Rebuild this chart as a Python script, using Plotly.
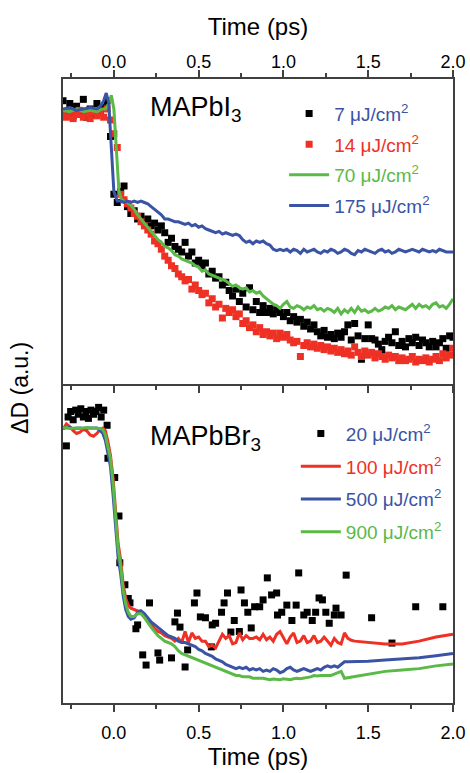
import plotly.graph_objects as go

FONT = "Liberation Sans, Arial, sans-serif"
BLUE = "#3a53a4"
RED = "#ee3124"
GREEN = "#5ab947"
BLACK = "#000000"
AXC = "#404040"

TICK_VALS = [0.0, 0.5, 1.0, 1.5, 2.0]
TICK_TEXT = ["0.0", "0.5", "1.0", "1.5", "2.0"]
MINOR_VALS = [-0.25, 0.25, 0.75, 1.25, 1.75]

# ---------------- MAPbI3 (top panel) ----------------
T_GRID = [-0.30, -0.28, -0.26, -0.24, -0.22, -0.20, -0.18, -0.16, -0.14, -0.12,
          -0.10, -0.08, -0.06, -0.04, -0.02, 0.00, 0.02, 0.04, 0.06, 0.08,
          0.10, 0.12, 0.14, 0.16, 0.18, 0.20, 0.22, 0.24, 0.26, 0.28,
          0.30, 0.32, 0.34, 0.36, 0.38, 0.40, 0.42, 0.44, 0.46, 0.48,
          0.50, 0.52, 0.54, 0.56, 0.58, 0.60, 0.62, 0.64, 0.66, 0.68,
          0.70, 0.72, 0.74, 0.76, 0.78, 0.80, 0.82, 0.84, 0.86, 0.88,
          0.90, 0.92, 0.94, 0.96, 0.98, 1.00, 1.02, 1.04, 1.06, 1.08,
          1.10, 1.12, 1.14, 1.16, 1.18, 1.20, 1.22, 1.24, 1.26, 1.28,
          1.30, 1.32, 1.34, 1.36, 1.38, 1.40, 1.42, 1.44, 1.46, 1.48,
          1.50, 1.52, 1.54, 1.56, 1.58, 1.60, 1.62, 1.64, 1.66, 1.68,
          1.70, 1.72, 1.74, 1.76, 1.78, 1.80, 1.82, 1.84, 1.86, 1.88,
          1.90, 1.92, 1.94, 1.96, 1.98, 2.00]

I_7 = [1.03, 0.99, 1.02, 0.975, 1.01, 0.985, 1.035, 0.97, 1.0, 0.98,
       1.02, 0.99, 1.005, 1.03, 0.90, 0.69, 0.66, 0.70, 0.72, 0.645,
       0.62, 0.63, 0.60, 0.61, 0.59, 0.60, 0.575, 0.585, 0.56, 0.575,
       0.55, 0.515, 0.53, 0.50, 0.49, 0.48, 0.515, 0.465, 0.48, 0.44,
       0.45, 0.43, 0.44, 0.40, 0.41, 0.385, 0.39, 0.36, 0.37, 0.34,
       0.32, 0.345, 0.30, 0.33, 0.28, 0.35, 0.27, 0.30, 0.26, 0.285,
       0.26, 0.275, 0.255, 0.27, 0.26, 0.245, 0.26, 0.23, 0.245, 0.225,
       0.235, 0.21, 0.225, 0.20, 0.215, 0.19, 0.175, 0.195, 0.17, 0.18,
       0.165, 0.185, 0.17, 0.19, 0.215, 0.16, 0.22, 0.175, 0.09, 0.165,
       0.215, 0.165, 0.16, 0.145, 0.125, 0.155, 0.17, 0.15, 0.19, 0.14,
       0.155, 0.135, 0.165, 0.15, 0.17, 0.14, 0.16, 0.15, 0.135, 0.155,
       0.135, 0.15, 0.165, 0.13, 0.175, 0.17]

I_14 = [0.985, 0.97, 0.99, 0.965, 0.98, 0.995, 0.97, 0.985, 0.965, 0.99,
        0.975, 0.985, 0.97, 1.0, 0.96, 0.91, 0.86, 0.69, 0.67, 0.655,
        0.64, 0.62, 0.61, 0.59, 0.575, 0.56, 0.545, 0.52, 0.51, 0.49,
        0.465, 0.45, 0.43, 0.42, 0.40, 0.39, 0.375, 0.38, 0.345, 0.36,
        0.34, 0.325, 0.33, 0.295, 0.31, 0.28, 0.29, 0.24, 0.275, 0.26,
        0.27, 0.245, 0.255, 0.22, 0.23, 0.205, 0.215, 0.19, 0.205, 0.18,
        0.19, 0.175, 0.185, 0.165, 0.185, 0.17, 0.18, 0.16, 0.15, 0.155,
        0.10, 0.14, 0.15, 0.135, 0.145, 0.13, 0.14, 0.125, 0.135, 0.12,
        0.13, 0.115, 0.125, 0.11, 0.12, 0.105, 0.135, 0.115, 0.10, 0.12,
        0.105, 0.115, 0.095, 0.11, 0.10, 0.09, 0.105, 0.095, 0.10, 0.085,
        0.095, 0.085, 0.09, 0.10, 0.08, 0.09, 0.085, 0.095, 0.08, 0.09,
        0.10, 0.085, 0.11, 0.095, 0.105, 0.13]

T_I70 = [-0.30, -0.26, -0.22, -0.18, -0.14, -0.10, -0.07, -0.05, -0.03, -0.015,
         0.0, 0.015, 0.03, 0.045, 0.06, 0.08, 0.10, 0.12, 0.14, 0.16,
         0.18, 0.20, 0.22, 0.24, 0.26, 0.28, 0.30, 0.32, 0.34, 0.36,
         0.38, 0.40, 0.42, 0.44, 0.46, 0.48, 0.50, 0.52, 0.54, 0.56,
         0.58, 0.60, 0.62, 0.64, 0.66, 0.68, 0.70, 0.72, 0.74, 0.76,
         0.78, 0.80, 0.82, 0.84, 0.86, 0.88, 0.90, 0.92, 0.94, 0.96,
         0.98, 1.00, 1.02, 1.04, 1.06, 1.08, 1.10, 1.12, 1.14, 1.16,
         1.18, 1.20, 1.22, 1.24, 1.26, 1.28, 1.30, 1.32, 1.34, 1.36,
         1.38, 1.40, 1.42, 1.44, 1.46, 1.48, 1.50, 1.52, 1.54, 1.56,
         1.58, 1.60, 1.62, 1.64, 1.66, 1.68, 1.70, 1.72, 1.74, 1.76,
         1.78, 1.80, 1.82, 1.84, 1.86, 1.88, 1.90, 1.92, 1.94, 1.96,
         1.98, 2.00]
I_70 = [0.995, 0.99, 1.0, 0.99, 0.995, 0.99, 1.0, 1.0, 1.02, 1.05,
        1.0, 0.85, 0.70, 0.67, 0.665, 0.66, 0.65, 0.635, 0.615, 0.60,
        0.585, 0.57, 0.555, 0.54, 0.525, 0.515, 0.50, 0.495, 0.485, 0.47,
        0.465, 0.455, 0.45, 0.445, 0.44, 0.43, 0.425, 0.41, 0.415, 0.40,
        0.395, 0.39, 0.385, 0.38, 0.375, 0.365, 0.355, 0.36, 0.35, 0.345,
        0.35, 0.335, 0.34, 0.33, 0.335, 0.32, 0.31, 0.30, 0.29, 0.285,
        0.275, 0.29, 0.30, 0.28, 0.275, 0.285, 0.28, 0.27, 0.28, 0.275,
        0.285, 0.27, 0.275, 0.265, 0.275, 0.27, 0.26, 0.275, 0.255, 0.27,
        0.26, 0.275, 0.26, 0.28, 0.265, 0.27, 0.26, 0.265, 0.275, 0.265,
        0.27, 0.28, 0.275, 0.285, 0.27, 0.28, 0.275, 0.27, 0.28, 0.29,
        0.275, 0.29, 0.28, 0.285, 0.275, 0.29, 0.295, 0.28, 0.285, 0.275,
        0.29, 0.31]

T_I175 = [-0.30, -0.26, -0.22, -0.18, -0.14, -0.10, -0.08, -0.06, -0.045, -0.03,
          -0.015, 0.0, 0.02, 0.04, 0.06, 0.08, 0.10, 0.12, 0.14, 0.16,
          0.18, 0.20, 0.22, 0.24, 0.26, 0.28, 0.30, 0.32, 0.34, 0.36,
          0.38, 0.40, 0.42, 0.44, 0.46, 0.48, 0.50, 0.52, 0.54, 0.56,
          0.58, 0.60, 0.62, 0.64, 0.66, 0.68, 0.70, 0.72, 0.74, 0.76,
          0.78, 0.80, 0.82, 0.84, 0.86, 0.88, 0.90, 0.92, 0.94, 0.96,
          0.98, 1.00, 1.02, 1.04, 1.06, 1.08, 1.10, 1.12, 1.14, 1.16,
          1.18, 1.20, 1.22, 1.24, 1.26, 1.28, 1.30, 1.32, 1.34, 1.36,
          1.38, 1.40, 1.42, 1.44, 1.46, 1.48, 1.50, 1.52, 1.54, 1.56,
          1.58, 1.60, 1.62, 1.64, 1.66, 1.68, 1.70, 1.72, 1.74, 1.76,
          1.78, 1.80, 1.82, 1.84, 1.86, 1.88, 1.90, 1.92, 1.94, 1.96,
          1.98, 2.00]
I_175 = [1.0, 1.005, 0.995, 1.0, 1.005, 1.0, 1.01, 1.03, 1.058, 1.02,
         0.85, 0.70, 0.665, 0.665, 0.66, 0.665, 0.66, 0.665, 0.66, 0.665,
         0.66, 0.655, 0.645, 0.635, 0.625, 0.615, 0.60, 0.60, 0.595, 0.59,
         0.59, 0.585, 0.58, 0.585, 0.575, 0.58, 0.57, 0.575, 0.565, 0.56,
         0.555, 0.55, 0.555, 0.545, 0.55, 0.545, 0.54, 0.545, 0.54, 0.525,
         0.515, 0.52, 0.51, 0.52, 0.515, 0.52, 0.51, 0.505, 0.49, 0.485,
         0.49, 0.485, 0.49, 0.48, 0.49, 0.485, 0.475, 0.49, 0.48, 0.485,
         0.49, 0.48, 0.475, 0.485, 0.48, 0.49, 0.485, 0.475, 0.48, 0.49,
         0.485, 0.475, 0.47, 0.485, 0.48, 0.49, 0.485, 0.48, 0.475, 0.485,
         0.49, 0.48, 0.485, 0.475, 0.48, 0.49, 0.485, 0.48, 0.485, 0.49,
         0.485, 0.48, 0.49, 0.485, 0.48, 0.485, 0.48, 0.49, 0.485, 0.48,
         0.48, 0.48]

# ---------------- MAPbBr3 (bottom panel) ----------------
T_BR_LINES = [-0.30, -0.28, -0.26, -0.24, -0.22, -0.20, -0.18, -0.16, -0.14, -0.12,
              -0.10, -0.08, -0.065, -0.05, -0.035, -0.02, -0.005, 0.01, 0.025, 0.04,
              0.055, 0.07, 0.085, 0.10, 0.12, 0.14, 0.16, 0.18, 0.20, 0.22,
              0.24, 0.26, 0.28, 0.30, 0.32, 0.34, 0.36, 0.38, 0.40, 0.42,
              0.44, 0.46, 0.48, 0.50, 0.52, 0.54, 0.56, 0.58, 0.60, 0.62,
              0.64, 0.66, 0.68, 0.70, 0.72, 0.74, 0.76, 0.78, 0.80, 0.82,
              0.84, 0.86, 0.88, 0.90, 0.92, 0.94, 0.96, 0.98, 1.00, 1.02,
              1.04, 1.06, 1.08, 1.10, 1.12, 1.14, 1.16, 1.18, 1.20, 1.22,
              1.24, 1.26, 1.28, 1.30, 1.32, 1.34, 1.36, 1.38, 1.40, 1.42,
              1.50, 1.60, 1.70, 1.80, 1.90, 2.00]

BR_100 = [0.995, 1.015, 1.005, 0.99, 0.98, 0.985, 0.995, 0.99, 0.975, 0.97,
          0.98, 0.995, 1.0, 0.99, 0.95, 0.90, 0.82, 0.70, 0.58, 0.52,
          0.43, 0.38, 0.355, 0.345, 0.34, 0.335, 0.335, 0.32, 0.30, 0.285,
          0.27, 0.26, 0.255, 0.245, 0.24, 0.235, 0.225, 0.235, 0.22, 0.26,
          0.22, 0.255, 0.235, 0.24, 0.225, 0.225, 0.205, 0.21, 0.20, 0.225,
          0.25, 0.235, 0.245, 0.215, 0.22, 0.255, 0.23, 0.245, 0.235, 0.235,
          0.24, 0.23, 0.25, 0.23, 0.24, 0.225, 0.25, 0.26, 0.235, 0.215,
          0.24, 0.255, 0.22, 0.225, 0.245, 0.22, 0.225, 0.245, 0.22, 0.225,
          0.24, 0.225, 0.21, 0.235, 0.22, 0.215, 0.255, 0.235, 0.228, 0.225,
          0.22, 0.215, 0.215, 0.225, 0.24, 0.25]

BR_500 = [1.0, 1.0, 1.002, 0.998, 1.0, 1.0, 0.998, 1.0, 1.0, 1.0,
          1.0, 0.99, 0.98, 0.955, 0.91, 0.86, 0.76, 0.64, 0.53, 0.47,
          0.39, 0.34, 0.315, 0.305, 0.31, 0.33, 0.335, 0.325, 0.31, 0.295,
          0.285, 0.275, 0.265, 0.255, 0.245, 0.24, 0.235, 0.225, 0.22, 0.22,
          0.215, 0.21, 0.205, 0.195, 0.19, 0.18, 0.175, 0.17, 0.16, 0.155,
          0.15, 0.14, 0.135, 0.13, 0.125, 0.13, 0.125, 0.13, 0.12, 0.125,
          0.12, 0.125, 0.115, 0.12, 0.115, 0.125, 0.12, 0.11, 0.115, 0.125,
          0.13, 0.12, 0.115, 0.12, 0.125, 0.12, 0.115, 0.12, 0.125, 0.12,
          0.13, 0.135, 0.13, 0.135, 0.13, 0.14, 0.15, 0.15, 0.15, 0.15,
          0.152, 0.156, 0.16, 0.165, 0.172, 0.18]

BR_900 = [1.0, 1.002, 0.998, 1.0, 1.0, 0.998, 1.0, 1.002, 1.0, 1.0,
          1.0, 0.998, 0.995, 0.975, 0.93, 0.89, 0.80, 0.68, 0.56, 0.50,
          0.41, 0.36, 0.33, 0.315, 0.315, 0.325, 0.325, 0.31, 0.29, 0.275,
          0.26, 0.245, 0.235, 0.225, 0.22, 0.215, 0.205, 0.19, 0.18, 0.175,
          0.17, 0.165, 0.16, 0.155, 0.15, 0.145, 0.14, 0.135, 0.13, 0.125,
          0.12, 0.115, 0.11, 0.105, 0.10, 0.10, 0.095, 0.095, 0.095, 0.09,
          0.09, 0.088, 0.09, 0.087, 0.085, 0.087, 0.085, 0.085, 0.088, 0.087,
          0.085, 0.088, 0.09, 0.088, 0.09, 0.092, 0.095, 0.10, 0.098, 0.10,
          0.10, 0.098, 0.10, 0.105, 0.11, 0.115, 0.09, 0.092, 0.095, 0.097,
          0.105, 0.115, 0.12, 0.125, 0.135, 0.142]

T_BR20 = [-0.28, -0.27, -0.255, -0.24, -0.225, -0.21, -0.195, -0.18, -0.165, -0.15,
          -0.135, -0.12, -0.105, -0.09, -0.075, -0.06, -0.04, -0.035, 0.005, 0.03,
          0.035, 0.065, 0.085, 0.095, 0.13, 0.14, 0.17, 0.19, 0.21, 0.26,
          0.27, 0.34, 0.36, 0.375, 0.39, 0.42, 0.435, 0.475, 0.49, 0.51,
          0.54, 0.575, 0.58, 0.60, 0.635, 0.65, 0.67, 0.69, 0.71, 0.74,
          0.75, 0.77, 0.79, 0.81, 0.83, 0.86, 0.88, 0.905, 0.93, 0.96,
          0.965, 0.99, 1.02, 1.05, 1.075, 1.09, 1.12, 1.14, 1.17, 1.19,
          1.21, 1.23, 1.25, 1.27, 1.30, 1.31, 1.34, 1.37, 1.52, 1.64,
          1.78, 1.94]
BR_20 = [0.935, 1.04, 1.06, 1.03, 1.065, 1.05, 1.07, 1.04, 1.06, 1.035,
         1.065, 1.05, 1.06, 1.075, 1.04, 1.065, 1.01, 0.89, 0.82, 0.68,
         0.51, 0.43, 0.38, 0.364, 0.27, 0.284, 0.175, 0.138, 0.364, 0.182,
         0.156, 0.164, 0.295, 0.327, 0.276, 0.131, 0.193, 0.364, 0.40, 0.313,
         0.31, 0.204, 0.284, 0.29, 0.33, 0.364, 0.40, 0.258, 0.30, 0.26,
         0.411, 0.364, 0.33, 0.273, 0.35, 0.35, 0.375, 0.455, 0.393, 0.40,
         0.32, 0.33, 0.356, 0.30, 0.356, 0.473, 0.32, 0.33, 0.30, 0.33,
         0.382, 0.375, 0.33, 0.29, 0.32, 0.345, 0.32, 0.465, 0.31, 0.218,
         0.35, 0.35]


def lab(txt, color):
    return '<span style="color:%s">%s μJ/cm<sup>2</sup></span>' % (color, txt)


fig = go.Figure()
# top panel
fig.add_trace(go.Scatter(x=T_GRID, y=I_7, mode="markers", name=lab("7", BLUE),
                         marker=dict(symbol="square", size=7, color=BLACK),
                         xaxis="x", yaxis="y", legend="legend", legendgroup="a1"))
fig.add_trace(go.Scatter(x=T_GRID, y=I_14, mode="markers", name=lab("14", RED),
                         marker=dict(symbol="square", size=7, color=RED),
                         xaxis="x", yaxis="y", legend="legend", legendgroup="a2"))
fig.add_trace(go.Scatter(x=T_I70, y=I_70, mode="lines", name=lab("70", GREEN),
                         line=dict(color=GREEN, width=3),
                         xaxis="x", yaxis="y", legend="legend", legendgroup="a3"))
fig.add_trace(go.Scatter(x=T_I175, y=I_175, mode="lines", name=lab("175", BLUE),
                         line=dict(color=BLUE, width=3),
                         xaxis="x", yaxis="y", legend="legend", legendgroup="a4"))
# bottom panel
fig.add_trace(go.Scatter(x=T_BR20, y=BR_20, mode="markers", name=lab("20", BLUE),
                         marker=dict(symbol="square", size=7, color=BLACK),
                         xaxis="x2", yaxis="y2", legend="legend2", legendgroup="b1"))
fig.add_trace(go.Scatter(x=T_BR_LINES, y=BR_100, mode="lines", name=lab("100", RED),
                         line=dict(color=RED, width=3),
                         xaxis="x2", yaxis="y2", legend="legend2", legendgroup="b2"))
fig.add_trace(go.Scatter(x=T_BR_LINES, y=BR_500, mode="lines", name=lab("500", BLUE),
                         line=dict(color=BLUE, width=3),
                         xaxis="x2", yaxis="y2", legend="legend2", legendgroup="b3"))
fig.add_trace(go.Scatter(x=T_BR_LINES, y=BR_900, mode="lines", name=lab("900", GREEN),
                         line=dict(color=GREEN, width=3),
                         xaxis="x2", yaxis="y2", legend="legend2", legendgroup="b4"))

SPLIT = 0.5112

xcommon = dict(range=[-0.3, 2.0], tickvals=TICK_VALS, ticktext=TICK_TEXT,
               ticks="outside", ticklen=7, tickwidth=1.5, tickcolor=AXC,
               showline=True, linewidth=2, linecolor=AXC, showgrid=False,
               zeroline=False, automargin=False,
               tickfont=dict(size=18, color="black", family=FONT),
               minor=dict(tickvals=MINOR_VALS, ticks="outside", ticklen=4,
                          tickwidth=1.5, tickcolor=AXC))
TITLE_FONT = dict(size=24, color="black", family=FONT)
ycommon = dict(showline=True, linewidth=2, linecolor=AXC, mirror=True,
               showticklabels=False, ticks="", showgrid=False, zeroline=False,
               automargin=False)

fig.update_layout(
    width=470, height=773,
    margin=dict(l=63, r=17, t=79, b=70, autoexpand=False),
    paper_bgcolor="white", plot_bgcolor="white",
    font=dict(family=FONT, color="black"),
    xaxis=dict(xcommon, side="top", anchor="y", mirror="ticks", domain=[0, 1],
               ticklabelstandoff=-5,
               title=dict(text="Time (ps)", font=TITLE_FONT, standoff=9)),
    xaxis2=dict(xcommon, side="bottom", anchor="y2", domain=[0, 1],
                ticklabelstandoff=5,
                title=dict(text="Time (ps)", font=TITLE_FONT, standoff=6)),
    yaxis=dict(ycommon, domain=[SPLIT, 1.0], range=[0, 1.109]),
    yaxis2=dict(ycommon, domain=[0.0, SPLIT], range=[0, 1.16]),
    legend=dict(x=0.567, y=0.975, xanchor="left", yanchor="top",
                bgcolor="rgba(0,0,0,0)", borderwidth=0, itemwidth=40,
                font=dict(size=19, family=FONT), tracegroupgap=3),
    legend2=dict(x=0.597, y=0.462, xanchor="left", yanchor="top",
                 bgcolor="rgba(0,0,0,0)", borderwidth=0, itemwidth=40,
                 font=dict(size=19, family=FONT), tracegroupgap=5),
    showlegend=True,
    annotations=[
        dict(text="MAPbI<sub>3</sub>", x=0.20, y=1.0, xref="x", yref="y",
             xanchor="left", yanchor="middle", showarrow=False,
             font=dict(size=27, color="black", family=FONT)),
        dict(text="MAPbBr<sub>3</sub>", x=0.20, y=0.965, xref="x2", yref="y2",
             xanchor="left", yanchor="middle", showarrow=False,
             font=dict(size=27, color="black", family=FONT)),
        dict(text="ΔD (a.u.)", x=0, y=0.505, xref="paper", yref="paper",
             xanchor="center", yanchor="middle", xshift=-43, textangle=-90,
             showarrow=False, font=dict(size=23, color="black", family=FONT)),
    ],
)

fig.write_html(
    "out.html",
    post_script="document.body.style.margin='0';"
                "document.documentElement.style.overflow='hidden';"
                "document.body.style.overflow='hidden';",
)
